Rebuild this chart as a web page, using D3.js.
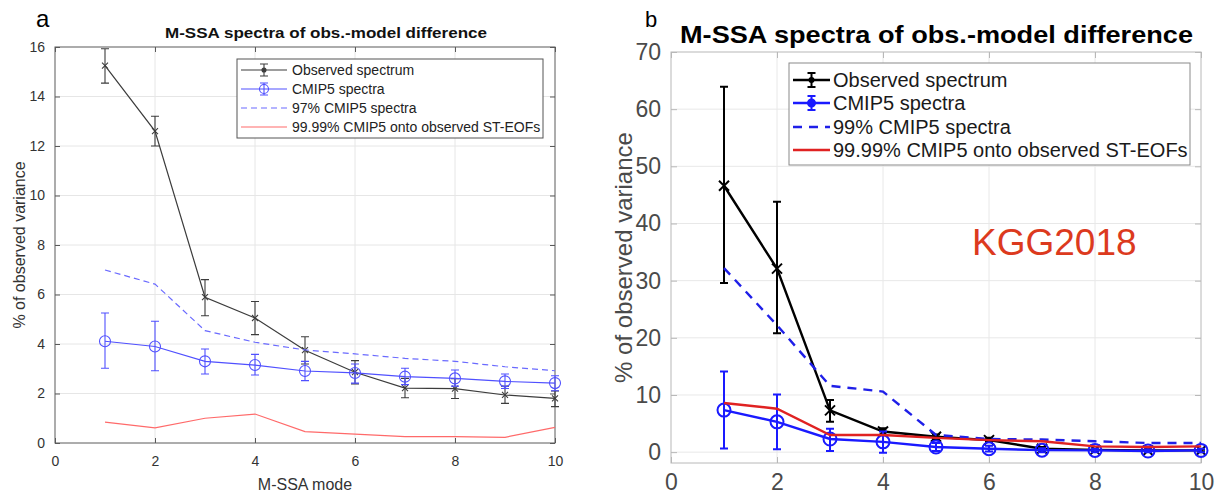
<!DOCTYPE html>
<html lang="en">
  <head>
    <meta charset="utf-8" />
    <script src="https://d3js.org/d3.v7.min.js"></script>
    <style type="text/css">
      body {
        margin: 0;
        background-color: white;
      }
      svg {
        font-family: "Liberation Sans", Arial, sans-serif;
      }
    </style>
  </head>

  <body>
    <svg id="chart" width="1222" height="497"></svg>

    <script>
      // ---- data ----
      let modes = [1, 2, 3, 4, 5, 6, 7, 8, 9, 10];
      let xTicks = [0, 2, 4, 6, 8, 10];

      // panel a
      let obsA = [15.25, 12.6, 5.89, 5.05, 3.75, 2.86, 2.22, 2.2, 1.94, 1.8];
      let obsALo = [14.54, 12.0, 5.14, 4.38, 3.19, 2.39, 1.83, 1.8, 1.6, 1.47];
      let obsAHi = [15.93, 13.2, 6.6, 5.72, 4.29, 3.33, 2.61, 2.6, 2.3, 2.1];
      let cmipA = [4.11, 3.9, 3.3, 3.15, 2.91, 2.83, 2.68, 2.61, 2.49, 2.42];
      let cmipALo = [3.02, 2.92, 2.79, 2.75, 2.52, 2.42, 2.36, 2.3, 2.2, 2.11];
      let cmipAHi = [5.25, 4.92, 3.8, 3.58, 3.3, 3.19, 3.02, 2.95, 2.79, 2.72];
      let pct97A = [6.99, 6.42, 4.54, 4.07, 3.76, 3.6, 3.42, 3.3, 3.08, 2.92];
      let redA = [0.84, 0.61, 1.0, 1.17, 0.46, 0.36, 0.26, 0.26, 0.23, 0.63];
      let yTicksA = [0, 2, 4, 6, 8, 10, 12, 14, 16];

      // panel b
      let obsB = [46.6, 32.1, 7.3, 3.6, 2.7, 2.1, 0.6, 0.4, 0.3, 0.3];
      let obsBLo = [29.6, 20.8, 5.3, 3.0, 2.3, 1.8, 0.3, 0.2, 0.1, 0.1];
      let obsBHi = [63.9, 43.8, 9.1, 4.2, 3.1, 2.5, 0.9, 0.6, 0.5, 0.5];
      let cmipB = [7.35, 5.3, 2.3, 1.8, 0.9, 0.6, 0.35, 0.3, 0.2, 0.3];
      let cmipBLo = [0.65, 0.5, 0.2, -0.1, 0.2, 0.1, 0.0, 0.0, 0.0, 0.0];
      let cmipBHi = [14.1, 10.1, 4.1, 3.6, 1.6, 1.1, 0.7, 0.6, 0.5, 0.6];
      let pct99B = [32.2, 22.2, 11.6, 10.6, 3.0, 2.3, 2.2, 1.9, 1.6, 1.6];
      let redB = [8.6, 7.6, 3.0, 3.0, 2.5, 2.1, 1.9, 1.0, 0.9, 1.0];
      let yTicksB = [0, 10, 20, 30, 40, 50, 60, 70];

      let svg = d3.select("#chart");

      function drawPanel(p) {
        let g = svg.append("g");
        let x = d3.scaleLinear([0, 10], [p.left, p.right]);
        let y = d3.scaleLinear(p.yDomain, [p.bottom, p.top]);

        // grid
        g.selectAll(".gx")
          .data(xTicks.slice(1, -1))
          .enter()
          .append("line")
          .attr("x1", (d) => x(d))
          .attr("x2", (d) => x(d))
          .attr("y1", p.top)
          .attr("y2", p.bottom)
          .attr("stroke", p.grid)
          .attr("stroke-width", 1);
        g.selectAll(".gy")
          .data(p.yTicks.filter((d) => y(d) > p.top + 1 && y(d) < p.bottom - 1))
          .enter()
          .append("line")
          .attr("x1", p.left)
          .attr("x2", p.right)
          .attr("y1", (d) => y(d))
          .attr("y2", (d) => y(d))
          .attr("stroke", p.grid)
          .attr("stroke-width", 1);

        // axes (ticks inside, on all four sides)
        let tl = p.tickLen;
        let axB = g.append("g").attr("transform", "translate(0," + p.bottom + ")")
          .call(d3.axisBottom(x).tickValues(xTicks).tickSize(-tl).tickPadding(p.xPad));
        let axT = g.append("g").attr("transform", "translate(0," + p.top + ")")
          .call(d3.axisTop(x).tickValues(xTicks).tickSize(-tl).tickFormat(""));
        let axL = g.append("g").attr("transform", "translate(" + p.left + ",0)")
          .call(d3.axisLeft(y).tickValues(p.yTicks).tickSize(-tl).tickPadding(p.yPad));
        let axR = g.append("g").attr("transform", "translate(" + p.right + ",0)")
          .call(d3.axisRight(y).tickValues(p.yTicks).tickSize(-tl).tickFormat(""));
        [axB, axT, axL, axR].forEach(function (ax) {
          ax.select(".domain").remove();
          ax.selectAll(".tick line").attr("stroke", p.axisColor);
          ax.selectAll("text")
            .attr("fill", p.tickColor)
            .style("font-size", p.tickFont + "px")
            .style("font-family", "'Liberation Sans', Arial, sans-serif");
        });
        g.append("rect")
          .attr("x", p.left)
          .attr("y", p.top)
          .attr("width", p.right - p.left)
          .attr("height", p.bottom - p.top)
          .attr("fill", "none")
          .attr("stroke", p.axisColor)
          .attr("stroke-width", 1);

        let line = d3.line().x((d, i) => x(modes[i])).y((d) => y(d));

        // observed spectrum
        g.append("path")
          .attr("d", line(p.obs))
          .attr("fill", "none")
          .attr("stroke", p.obsColor)
          .attr("stroke-width", p.lw);
        errorBars(g, x, y, p.obsLo, p.obsHi, p.obsColor, p.ebw, p.cap);
        modes.forEach(function (m, i) {
          let s = p.xSize;
          g.append("path")
            .attr("d", "M" + (x(m) - s) + "," + (y(p.obs[i]) - s) + "L" + (x(m) + s) + "," + (y(p.obs[i]) + s) +
              "M" + (x(m) - s) + "," + (y(p.obs[i]) + s) + "L" + (x(m) + s) + "," + (y(p.obs[i]) - s))
            .attr("stroke", p.obsColor)
            .attr("stroke-width", p.ebw);
        });

        // CMIP5 spectra
        g.append("path")
          .attr("d", line(p.cmip))
          .attr("fill", "none")
          .attr("stroke", p.blue)
          .attr("stroke-width", p.lw);
        errorBars(g, x, y, p.cmipLo, p.cmipHi, p.blue, p.ebw, p.cap);
        g.selectAll(".circ")
          .data(p.cmip)
          .enter()
          .append("circle")
          .attr("cx", (d, i) => x(modes[i]))
          .attr("cy", (d) => y(d))
          .attr("r", p.circR)
          .attr("fill", "none")
          .attr("stroke", p.blue)
          .attr("stroke-width", p.ebw);

        // percentile
        g.append("path")
          .attr("d", line(p.pct))
          .attr("fill", "none")
          .attr("stroke", p.dashColor)
          .attr("stroke-width", p.lw)
          .attr("stroke-dasharray", p.dash);

        // projection
        g.append("path")
          .attr("d", line(p.red))
          .attr("fill", "none")
          .attr("stroke", p.red_c)
          .attr("stroke-width", p.lw);

        // titles and labels
        g.append("text")
          .attr("x", p.titleX)
          .attr("y", p.titleY)
          .attr("font-weight", "bold")
          .attr("font-size", p.titleFont)
          .attr("fill", p.titleColor)
          .attr("textLength", p.titleLen)
          .attr("lengthAdjust", "spacingAndGlyphs")
          .text("M-SSA spectra of obs.-model difference");
        g.append("text")
          .attr("transform", "translate(" + p.ylabX + "," + ((p.top + p.bottom) / 2) + ") rotate(-90)")
          .attr("text-anchor", "middle")
          .attr("font-size", p.labFont)
          .attr("fill", p.tickColor)
          .text("% of observed variance");
        if (p.xlab) {
          g.append("text")
            .attr("x", (p.left + p.right) / 2)
            .attr("y", p.xlabY)
            .attr("text-anchor", "middle")
            .attr("font-size", p.labFont)
            .attr("fill", p.tickColor)
            .text(p.xlab);
        }
        g.append("text")
          .attr("x", p.letterX)
          .attr("y", 27)
          .attr("font-size", p.letterFont)
          .attr("fill", "black")
          .text(p.letter);

        // legend
        let L = p.legend;
        g.append("rect")
          .attr("x", L.x0)
          .attr("y", L.y0)
          .attr("width", L.x1 - L.x0)
          .attr("height", L.y1 - L.y0)
          .attr("fill", "white")
          .attr("stroke", L.stroke)
          .attr("stroke-width", 1);
        let names = p.legendNames;
        let cx = (L.l0 + L.l1) / 2;
        names.forEach(function (name, i) {
          let ry = L.rows[i];
          let col = [p.obsColor, p.blue, p.dashColor, p.red_c][i];
          let ln = g.append("line")
            .attr("x1", L.l0).attr("x2", L.l1)
            .attr("y1", ry).attr("y2", ry)
            .attr("stroke", col)
            .attr("stroke-width", p.lw);
          if (i === 2) ln.attr("stroke-dasharray", p.dash);
          if (i < 2) {
            g.append("path")
              .attr("d", "M" + cx + "," + (ry - L.eb) + "V" + (ry + L.eb) +
                "M" + (cx - p.cap) + "," + (ry - L.eb) + "H" + (cx + p.cap) +
                "M" + (cx - p.cap) + "," + (ry + L.eb) + "H" + (cx + p.cap))
              .attr("stroke", col)
              .attr("stroke-width", p.ebw)
              .attr("fill", "none");
            g.append("circle")
              .attr("cx", cx).attr("cy", ry)
              .attr("r", i === 0 ? 2 : L.mr)
              .attr("fill", i === 0 || L.filled ? col : "none")
              .attr("stroke", col)
              .attr("stroke-width", p.ebw);
          }
          g.append("text")
            .attr("x", L.tx)
            .attr("y", ry)
            .attr("dy", "0.36em")
            .attr("font-size", L.font)
            .attr("fill", L.textColor)
            .text(name);
        });

        if (p.note) {
          g.append("text")
            .attr("x", p.note.x)
            .attr("y", p.note.y)
            .attr("font-size", p.note.font)
            .attr("fill", p.note.color)
            .text(p.note.text);
        }
      }

      function errorBars(g, x, y, lo, hi, color, w, cap) {
        modes.forEach(function (m, i) {
          let xx = x(m);
          g.append("path")
            .attr("d", "M" + xx + "," + y(lo[i]) + "V" + y(hi[i]) +
              "M" + (xx - cap) + "," + y(lo[i]) + "H" + (xx + cap) +
              "M" + (xx - cap) + "," + y(hi[i]) + "H" + (xx + cap))
            .attr("stroke", color)
            .attr("stroke-width", w)
            .attr("fill", "none");
        });
      }

      drawPanel({
        left: 55, right: 555, top: 47, bottom: 443,
        yDomain: [0, 16], yTicks: yTicksA,
        grid: "#e6e6e6", axisColor: "#5a5a5a", tickColor: "#333333",
        tickLen: 5, tickFont: 14, xPad: 13, yPad: 10,
        obs: obsA, obsLo: obsALo, obsHi: obsAHi,
        cmip: cmipA, cmipLo: cmipALo, cmipHi: cmipAHi,
        pct: pct97A, red: redA,
        obsColor: "#3c3c3c", blue: "#5050ff", dashColor: "#6a6aff", red_c: "#ff6a6a",
        lw: 1.2, ebw: 1.1, cap: 4, xSize: 3, circR: 5.5, dash: "6,4",
        titleX: 165, titleY: 38, titleFont: 15, titleLen: 322, titleColor: "#111",
        ylabX: 25, labFont: 16, xlab: "M-SSA mode", xlabY: 490,
        letter: "a", letterX: 36, letterFont: 24,
        legendNames: ["Observed spectrum", "CMIP5 spectra", "97% CMIP5 spectra", "99.99% CMIP5 onto observed ST-EOFs"],
        legend: {
          x0: 237, x1: 543, y0: 59, y1: 138, stroke: "#555",
          l0: 241, l1: 287, tx: 292, rows: [70, 89, 108, 127],
          font: 14, textColor: "#222", eb: 6, mr: 4.5, filled: false
        }
      });

      drawPanel({
        left: 671, right: 1201, top: 52, bottom: 463,
        yDomain: [-1.9, 70], yTicks: yTicksB,
        grid: "#e8e8e8", axisColor: "#b8b8b8", tickColor: "#4a4a4a",
        tickLen: 6, tickFont: 23, xPad: 11, yPad: 10,
        obs: obsB, obsLo: obsBLo, obsHi: obsBHi,
        cmip: cmipB, cmipLo: cmipBLo, cmipHi: cmipBHi,
        pct: pct99B, red: redB,
        obsColor: "#000000", blue: "#1a1aff", dashColor: "#1f1fe8", red_c: "#e02222",
        lw: 2.4, ebw: 2, cap: 4, xSize: 5, circR: 6.5, dash: "9,7",
        titleX: 680, titleY: 43, titleFont: 24, titleLen: 513, titleColor: "#000",
        ylabX: 632, labFont: 24, xlab: null,
        letter: "b", letterX: 645, letterFont: 22,
        legendNames: ["Observed spectrum", "CMIP5 spectra", "99% CMIP5 spectra", "99.99% CMIP5 onto observed ST-EOFs"],
        legend: {
          x0: 789, x1: 1190, y0: 63, y1: 165, stroke: "#8a8a8a",
          l0: 793, l1: 830, tx: 833, rows: [80, 103, 127, 150],
          font: 20, textColor: "#1a1a1a", eb: 7, mr: 3.5, filled: true
        },
        note: { text: "KGG2018", x: 972, y: 255, font: 37, color: "#dc3a1e" }
      });
    </script>
  </body>
</html>
